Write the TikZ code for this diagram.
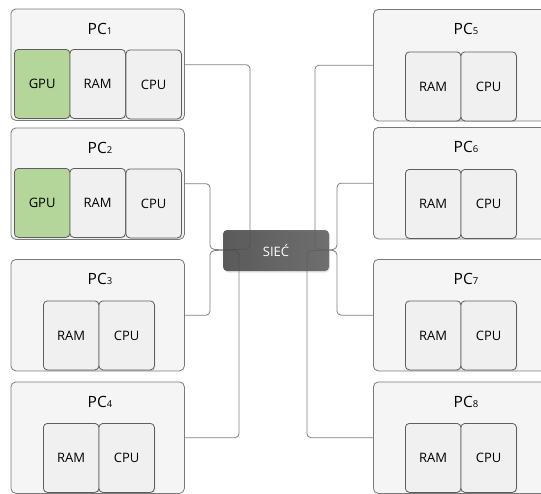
\documentclass[tikz,border=0pt]{standalone}
\usepackage{fontspec}
\setmainfont{Open Sans}
\usetikzlibrary{shadows}
\definecolor{boxfill}{HTML}{F5F5F5}
\definecolor{boxborder}{HTML}{7A7A7A}
\definecolor{partfill}{HTML}{F0F0F0}
\definecolor{partborder}{HTML}{5E5E5E}
\definecolor{gpufill}{HTML}{B5D69A}
\definecolor{connc}{HTML}{7F7F7F}
\definecolor{netL}{HTML}{474747}
\definecolor{netR}{HTML}{5F5F5F}
\tikzset{
  pcbox/.style={draw=boxborder, fill=boxfill, line width=0.8pt, rounded corners=5pt,
    minimum width=173.5pt, minimum height=111.5pt, anchor=north west, inner sep=0pt},
  part/.style={draw=partborder, fill=partfill, line width=0.8pt, rounded corners=4pt,
    minimum width=55.5pt, minimum height=69pt, anchor=north west, inner sep=0pt,
    font=\fontsize{13}{13}\selectfont,
    drop shadow={opacity=0.18, shadow xshift=1pt, shadow yshift=-1pt}},
  gpu/.style={part, fill=gpufill},
  ttl/.style={font=\fontsize{15.5}{16}\selectfont, inner sep=0pt},
  conn/.style={draw=connc, line width=0.8pt, rounded corners=4pt},
  net/.style={rounded corners=4pt, left color=netL, right color=netR, draw=none,
    minimum width=106pt, minimum height=41pt, inner sep=0pt, text=white,
    font=\fontsize{13}{13}\selectfont, fill opacity=0.88, text opacity=1,
    drop shadow={opacity=0.2, shadow xshift=1pt, shadow yshift=-1.5pt}}
}
\newcommand{\sub}[1]{{\fontsize{9.5}{10}\selectfont #1}}
\begin{document}
\begin{tikzpicture}[x=1pt, y=-1pt]
\useasboundingbox (0,0) rectangle (541,493);
% left PCs
\node[pcbox] (pc1) at (10.5,8.5) {};
\node[pcbox] (pc2) at (10.5,127.5) {};
\node[pcbox] (pc3) at (10.5,259) {};
\node[pcbox] (pc4) at (10.5,381.5) {};
% right PCs
\node[pcbox] (pc5) at (373,9) {};
\node[pcbox] (pc6) at (373,127) {};
\node[pcbox] (pc7) at (373,259) {};
\node[pcbox] (pc8) at (373,381.5) {};
% titles
\node[ttl] (t1) at (100,29) {PC\sub{1}};
\node[ttl] (t2) at (100,148) {PC\sub{2}};
\node[ttl] (t3) at (100,279) {PC\sub{3}};
\node[ttl] (t4) at (100,402) {PC\sub{4}};
\node[ttl] (t5) at (466,29) {PC\sub{5}};
\node[ttl] (t6) at (466,147) {PC\sub{6}};
\node[ttl] (t7) at (466,279) {PC\sub{7}};
\node[ttl] (t8) at (466,402) {PC\sub{8}};
% PC1 parts
\node[gpu]  (gpu1) at (14,49) {GPU};
\node[part] (ram1) at (69.5,49) {RAM};
\node[part] (cpu1) at (125.5,49.5) {CPU};
% PC2 parts
\node[gpu]  (gpu2) at (14,168) {GPU};
\node[part] (ram2) at (69.5,168) {RAM};
\node[part] (cpu2) at (125.5,168.5) {CPU};
% PC3, PC4 parts
\node[part] (ram3) at (43,300.5) {RAM};
\node[part] (cpu3) at (98.5,300.5) {CPU};
\node[part] (ram4) at (43,423) {RAM};
\node[part] (cpu4) at (98.5,423) {CPU};
% right parts
\node[part] (ram5) at (405,51.5) {RAM};
\node[part] (cpu5) at (460.5,51.5) {CPU};
\node[part] (ram6) at (405,169) {RAM};
\node[part] (cpu6) at (460.5,169) {CPU};
\node[part] (ram7) at (405,300.5) {RAM};
\node[part] (cpu7) at (460.5,300.5) {CPU};
\node[part] (ram8) at (405,423) {RAM};
\node[part] (cpu8) at (460.5,423) {CPU};
% network node placeholder coordinates
\coordinate (nw) at (223,250);
\coordinate (ne) at (329,250);
% connectors
\draw[conn] (pc1.east) -| (250,249) -- (nw);
\draw[conn] (pc2.east) -| (210,249) -- (nw);
\draw[conn] (pc3.east) -| (210,251) -- (nw);
\draw[conn] (pc4.east) -| (239,251) -- (nw);
\draw[conn] (pc5.west) -| (315,249) -- (ne);
\draw[conn] (pc6.west) -| (337,249) -- (ne);
\draw[conn] (pc7.west) -| (337,251) -- (ne);
\draw[conn] (pc8.west) -| (307,251) -- (ne);
% network node
\node[net] (siec) at (276,250.5) {SIEĆ};
\end{tikzpicture}
\end{document}
